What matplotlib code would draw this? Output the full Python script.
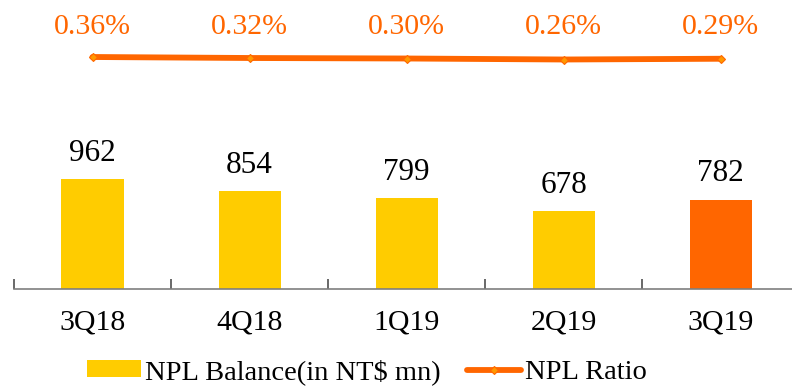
import matplotlib.pyplot as plt
import matplotlib.transforms as mtransforms

quarters = ["3Q18", "4Q18", "1Q19", "2Q19", "3Q19"]
npl_balance = [962, 854, 799, 678, 782]
npl_ratio = [0.36, 0.32, 0.30, 0.26, 0.29]
bar_colors = ["#FFCC00", "#FFCC00", "#FFCC00", "#FFCC00", "#FF6600"]

plt.rcParams['font.family'] = ['Liberation Serif', 'DejaVu Serif']

fig = plt.figure(figsize=(7.92, 3.88), dpi=100)
ax = fig.add_axes([14 / 792, 99 / 388, 1 - 14 / 792, 289 / 388])

x = list(range(len(quarters)))
bars = ax.bar(x, npl_balance, width=0.395, color=bar_colors,
              label="NPL Balance(in NT$ mn)")
for xi, v in zip(x, npl_balance):
    ax.annotate(str(v), (xi, v), xytext=(0, 8), textcoords="offset points",
                ha="center", va="bottom", fontsize=22.5)

ax.set_xlim(-0.5, 4.455)
ax.set_ylim(0, 2528)
ax.set_yticks([])
for s in ["top", "right", "left"]:
    ax.spines[s].set_visible(False)
ax.spines["bottom"].set_color("#7f7f7f")
ax.spines["bottom"].set_linewidth(1.2)
ax.set_xticks([i - 0.5 for i in range(len(quarters))])
ax.set_xticklabels([])
ax.set_xticks(x, minor=True)
ax.set_xticklabels(quarters, minor=True, fontsize=21.5)
ax.tick_params(axis="x", which="major", direction="in", length=7,
               width=1.1, color="#404040")
ax.tick_params(axis="x", which="minor", length=0, pad=15)

ax2 = ax.twinx()
ax2.set_position(ax.get_position())
line, = ax2.plot(x, npl_ratio, color="#FF6600", linewidth=4.2,
                 marker="D", markersize=4.5, markerfacecolor="#FF9900",
                 markeredgecolor="#FF6600", markeredgewidth=0.8,
                 solid_capstyle="round", label="NPL Ratio")
ax2.set_ylim(-8.92, 2.64)
ax2.set_yticks([])
for s in ax2.spines.values():
    s.set_visible(False)

trans = mtransforms.blended_transform_factory(ax.transData, ax.transAxes)
for xi, r in zip(x, npl_ratio):
    ax.text(xi, 0.905, f"{r:.2f}%", transform=trans, ha="center", va="center",
            fontsize=21.5, color="#FF6600")

fig.legend([bars, line], ["NPL Balance(in NT$ mn)", "NPL Ratio"],
           loc="center", bbox_to_anchor=(367 / 792, 16 / 388), ncol=2,
           frameon=False, fontsize=20.5, handlelength=1.9, handleheight=0.55,
           columnspacing=0.9, handletextpad=0.15)

fig.savefig("out.png", dpi=100)
